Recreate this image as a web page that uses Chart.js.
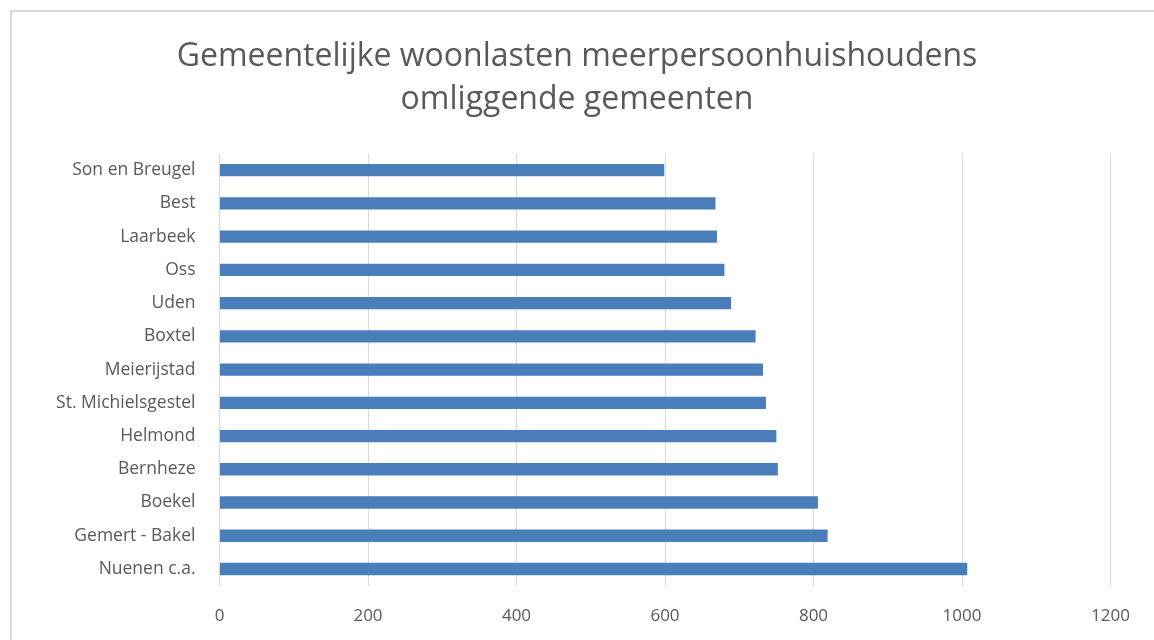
<!DOCTYPE html>
<html lang="nl">
<head>
    <meta charset="UTF-8">
    <title>Gemeentelijke woonlasten</title>
    <script src="https://cdn.jsdelivr.net/npm/chart.js@4.4.0/dist/chart.umd.min.js"></script>
    <style>
        html, body { margin: 0; padding: 0; background: #fff; }
        #wrap { position: relative; width: 1154px; height: 640px; }
    </style>
</head>
<body>
<div id="wrap"><canvas id="woonlasten"></canvas></div>
<script>
    const gemeenten = ['Son en Breugel', 'Best', 'Laarbeek', 'Oss', 'Uden', 'Boxtel', 'Meierijstad',
        'St. Michielsgestel', 'Helmond', 'Bernheze', 'Boekel', 'Gemert - Bakel', 'Nuenen c.a.'];
    const woonlasten = [599, 668, 670, 680, 689, 722, 732, 736, 750, 752, 806, 819, 1007];
    const xTicks = [0, 200, 400, 600, 800, 1000, 1200];

    const grey = '#595959';
    const font = "'Open Sans', sans-serif";

    // light frame on the left and top, as in the original export
    const frame = {
        id: 'frame',
        beforeDraw(chart) {
            const c = chart.ctx;
            c.save();
            c.strokeStyle = '#d9d9d9';
            c.lineWidth = 2;
            c.beginPath();
            c.moveTo(11, 640);
            c.lineTo(11, 11);
            c.lineTo(1154, 11);
            c.stroke();
            c.restore();
        }
    };

    new Chart(document.getElementById('woonlasten'), {
        type: 'bar',
        data: {
            labels: gemeenten,
            datasets: [{
                data: woonlasten,
                backgroundColor: '#4a7ebb',
                barPercentage: 0.37,
                categoryPercentage: 1
            }]
        },
        options: {
            indexAxis: 'y',
            responsive: true,
            maintainAspectRatio: false,
            animation: false,
            layout: { padding: { top: 35.5, right: 0, bottom: 0, left: 0 } },
            plugins: {
                legend: { display: false },
                tooltip: { enabled: false },
                title: {
                    display: true,
                    text: ['Gemeentelijke woonlasten meerpersoonhuishoudens', 'omliggende gemeenten'],
                    color: grey,
                    font: { family: font, size: 32, weight: 'normal', lineHeight: 1.344 },
                    padding: { top: 0, bottom: 32 }
                }
            },
            scales: {
                x: {
                    min: 0,
                    max: 1200,
                    afterBuildTicks: s => { s.ticks = xTicks.map(v => ({ value: v })); },
                    afterFit: s => { s.height = 54.4; },
                    grid: { color: '#d9d9d9', drawTicks: false },
                    border: { display: false },
                    ticks: { color: grey, padding: 20, font: { family: font, size: 17 }, callback: v => String(v) }
                },
                y: {
                    afterFit: s => { s.width = 219.5; },
                    grid: { display: false, drawTicks: false },
                    border: { display: false },
                    ticks: { color: grey, padding: 24, font: { family: font, size: 17.5 } }
                },
                // empty spacer on the right so the title stays centred on the page
                spacer: {
                    axis: 'y',
                    position: 'right',
                    afterFit: s => { s.width = 43.5; },
                    grid: { display: false, drawTicks: false },
                    border: { display: false },
                    ticks: { display: false }
                }
            }
        },
        plugins: [frame]
    });
</script>
</body>
</html>
